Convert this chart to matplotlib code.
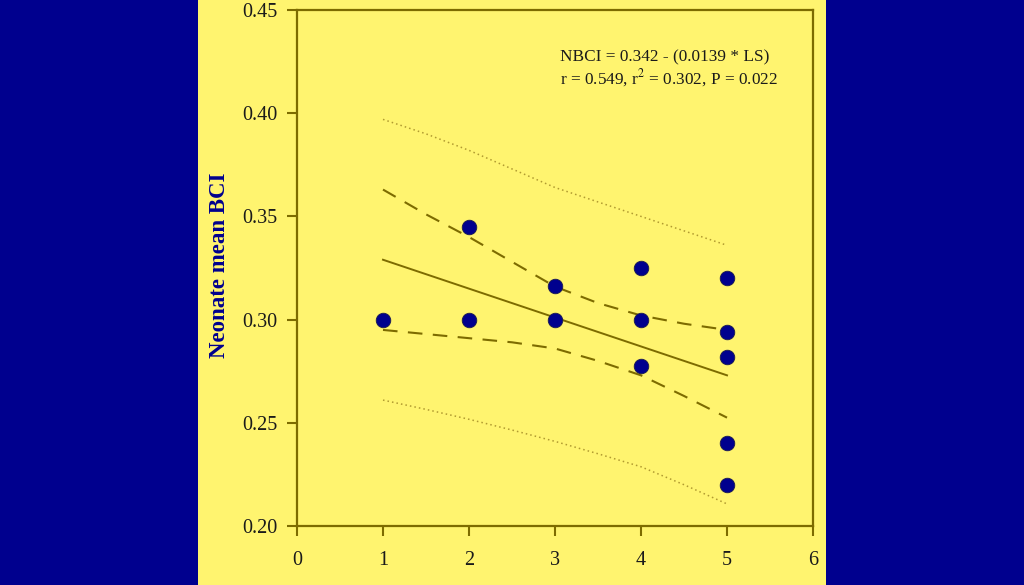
import matplotlib
matplotlib.use("Agg")
import matplotlib.pyplot as plt
from matplotlib.patches import Rectangle

# litter size vs neonate mean BCI
ls = [1, 2, 2, 3, 3, 4, 4, 4, 5, 5, 5, 5, 5]
bci = [0.300, 0.345, 0.300, 0.3165, 0.300, 0.325, 0.300, 0.2775,
       0.320, 0.294, 0.282, 0.240, 0.220]

# fitted line and bands
fit_x = [1, 5]
fit_y = [0.329, 0.273]
band_x = [1, 1.5, 2, 2.5, 3, 3.5, 4, 4.5, 5]
conf_upper = [0.363, 0.351, 0.340, 0.328, 0.316, 0.308, 0.302, 0.298, 0.295]
conf_lower = [0.295, 0.293, 0.291, 0.289, 0.286, 0.280, 0.273, 0.263, 0.2525]
pred_upper = [0.397, 0.390, 0.382, 0.373, 0.364, 0.357, 0.350, 0.343, 0.336]
pred_lower = [0.261, 0.2565, 0.2517, 0.2465, 0.241, 0.235, 0.2287, 0.220, 0.2107]

xticks = [0, 1, 2, 3, 4, 5, 6]
yticks = [0.20, 0.25, 0.30, 0.35, 0.40, 0.45]

navy = "#00008E"
yellow = "#FFF46F"
olive = "#7D6B00"

plt.rcParams['font.family'] = ['Liberation Serif', 'DejaVu Serif']
plt.rcParams['mathtext.fontset'] = 'stix'

fig = plt.figure(figsize=(10.24, 5.85), dpi=100, facecolor=navy)
# yellow slide panel behind the plot
panel = Rectangle((198 / 1024, 0), (826 - 198) / 1024, 1,
                  transform=fig.transFigure, facecolor=yellow,
                  edgecolor='none', zorder=-10)
fig.add_artist(panel)

ax = fig.add_axes([297 / 1024, 59 / 585, 516 / 1024, 516 / 585])
ax.set_facecolor(yellow)
ax.set_zorder(1)

ax.plot(band_x, pred_upper, linestyle=(0, (1, 2)), color="#B09A30", lw=1.1)
ax.plot(band_x, pred_lower, linestyle=(0, (1, 2)), color="#B09A30", lw=1.1)
ax.plot(band_x, conf_upper, linestyle=(0, (7, 5)), color=olive, lw=1.5)
ax.plot(band_x, conf_lower, linestyle=(0, (7, 5)), color=olive, lw=1.5)
ax.plot(fit_x, fit_y, color=olive, lw=1.4)
ax.scatter(ls, bci, s=110, color=navy, edgecolor="#1a1a50", linewidth=0.6, zorder=5)

ax.set_xlim(0, 6)
ax.set_ylim(0.20, 0.45)
ax.set_xticks(xticks)
ax.set_yticks(yticks)
ax.set_yticklabels(["%.2f" % v for v in yticks])

for s in ax.spines.values():
    s.set_color(olive)
    s.set_linewidth(1.6)
ax.tick_params(direction='out', length=7, width=1.5, color=olive,
               labelsize=14.5, labelcolor="#1a1a1a")
ax.tick_params(axis='x', pad=11)
ax.tick_params(axis='y', pad=7)

ax.set_ylabel("Neonate mean BCI", fontsize=16.5, fontweight='bold', color=navy)
ax.yaxis.set_label_coords(-0.130, 0.505)

ax.text(3.06, 0.4272, "NBCI = 0.342 - (0.0139 * LS)", fontsize=12.4,
        color="#1a1a1a", va='center')
ax.text(3.06, 0.4170, "r = 0.549, r$^2$ = 0.302, P = 0.022", fontsize=12.4,
        color="#1a1a1a", va='center')

fig.savefig("out.png", dpi=100, facecolor=fig.get_facecolor())
